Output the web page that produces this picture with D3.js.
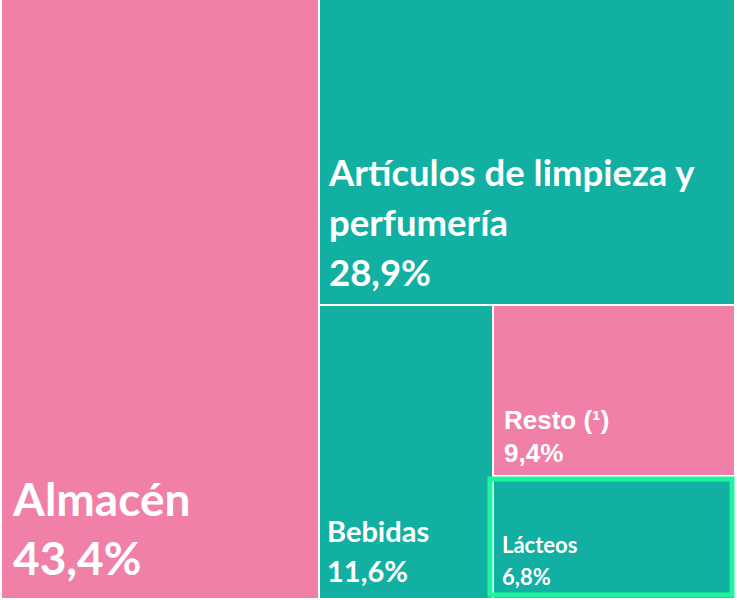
<!DOCTYPE html>
<html><head><meta charset="utf-8">
<script src="https://cdn.jsdelivr.net/npm/d3@7"></script>
<style>html,body{margin:0;padding:0;background:#fff;}svg{display:block;}</style>
</head><body>
<svg id="chart" width="737" height="600"></svg>
<script>
const categories = ["Almacén", "Artículos de limpieza y perfumería", "Bebidas", "Resto (¹)", "Lácteos"];
const values = [43.4, 28.9, 11.6, 9.4, 6.8];
const valueLabels = ["43,4%", "28,9%", "11,6%", "9,4%", "6,8%"];
const labelLines = [["Almacén"], ["Artículos de limpieza y", "perfumería"], ["Bebidas"], ["Resto (¹)"], ["Lácteos"]];

const PINK = "#f080a8", TEAL = "#12b0a2", HIGHLIGHT = "#1ef59c";
const colors = [PINK, TEAL, TEAL, PINK, TEAL];
const style = [
  {size: 46, lh: 59, dx: 11, dy: 23, family: "Lato, 'Open Sans', sans-serif"},
  {size: 36.5, lh: 50, dx: 9, dy: 18, family: "Lato, 'Open Sans', sans-serif"},
  {size: 29, lh: 40, dx: 7, dy: 16, family: "Lato, 'Open Sans', sans-serif"},
  {size: 26, lh: 33, dx: 10, dy: 13, family: "'Liberation Sans', Arial, sans-serif"},
  {size: 22, lh: 32, dx: 8, dy: 13, family: "Lato, 'Open Sans', sans-serif"}
];

const svg = d3.select("#chart");
const data = {children: categories.map((c, i) => ({name: c, value: values[i], i}))};
const root = d3.hierarchy(data).sum(d => d.value || 0);
d3.treemap().tile(d3.treemapBinary).size([732, 598]).paddingInner(2).round(true)(root);

const g = svg.append("g").attr("transform", "translate(2,0)");
const leaves = g.selectAll("g.leaf").data(root.leaves()).join("g").attr("class", "leaf");
leaves.append("rect")
  .attr("x", d => d.x0).attr("y", d => d.y0)
  .attr("width", d => d.x1 - d.x0).attr("height", d => d.y1 - d.y0)
  .attr("fill", d => colors[d.data.i]);

// highlight border on Lácteos
const hl = root.leaves().find(d => d.data.name === "Lácteos");
g.append("rect")
  .attr("x", hl.x0 - 4).attr("y", hl.y0 + 2)
  .attr("width", hl.x1 - hl.x0 + 2).attr("height", hl.y1 - hl.y0 - 5)
  .attr("fill", "none").attr("stroke", HIGHLIGHT).attr("stroke-width", 5);

leaves.each(function(d) {
  const i = d.data.i, s = style[i];
  const lines = labelLines[i].concat([valueLabels[i]]);
  const t = d3.select(this).append("text")
    .attr("fill", "#fff").attr("font-weight", "bold")
    .attr("font-family", s.family).attr("font-size", s.size);
  const n = lines.length;
  lines.forEach((ln, k) => {
    t.append("tspan").attr("x", d.x0 + s.dx)
      .attr("y", d.y1 - s.dy - (n - 1 - k) * s.lh)
      .text(ln);
  });
});
</script>
</body></html>
